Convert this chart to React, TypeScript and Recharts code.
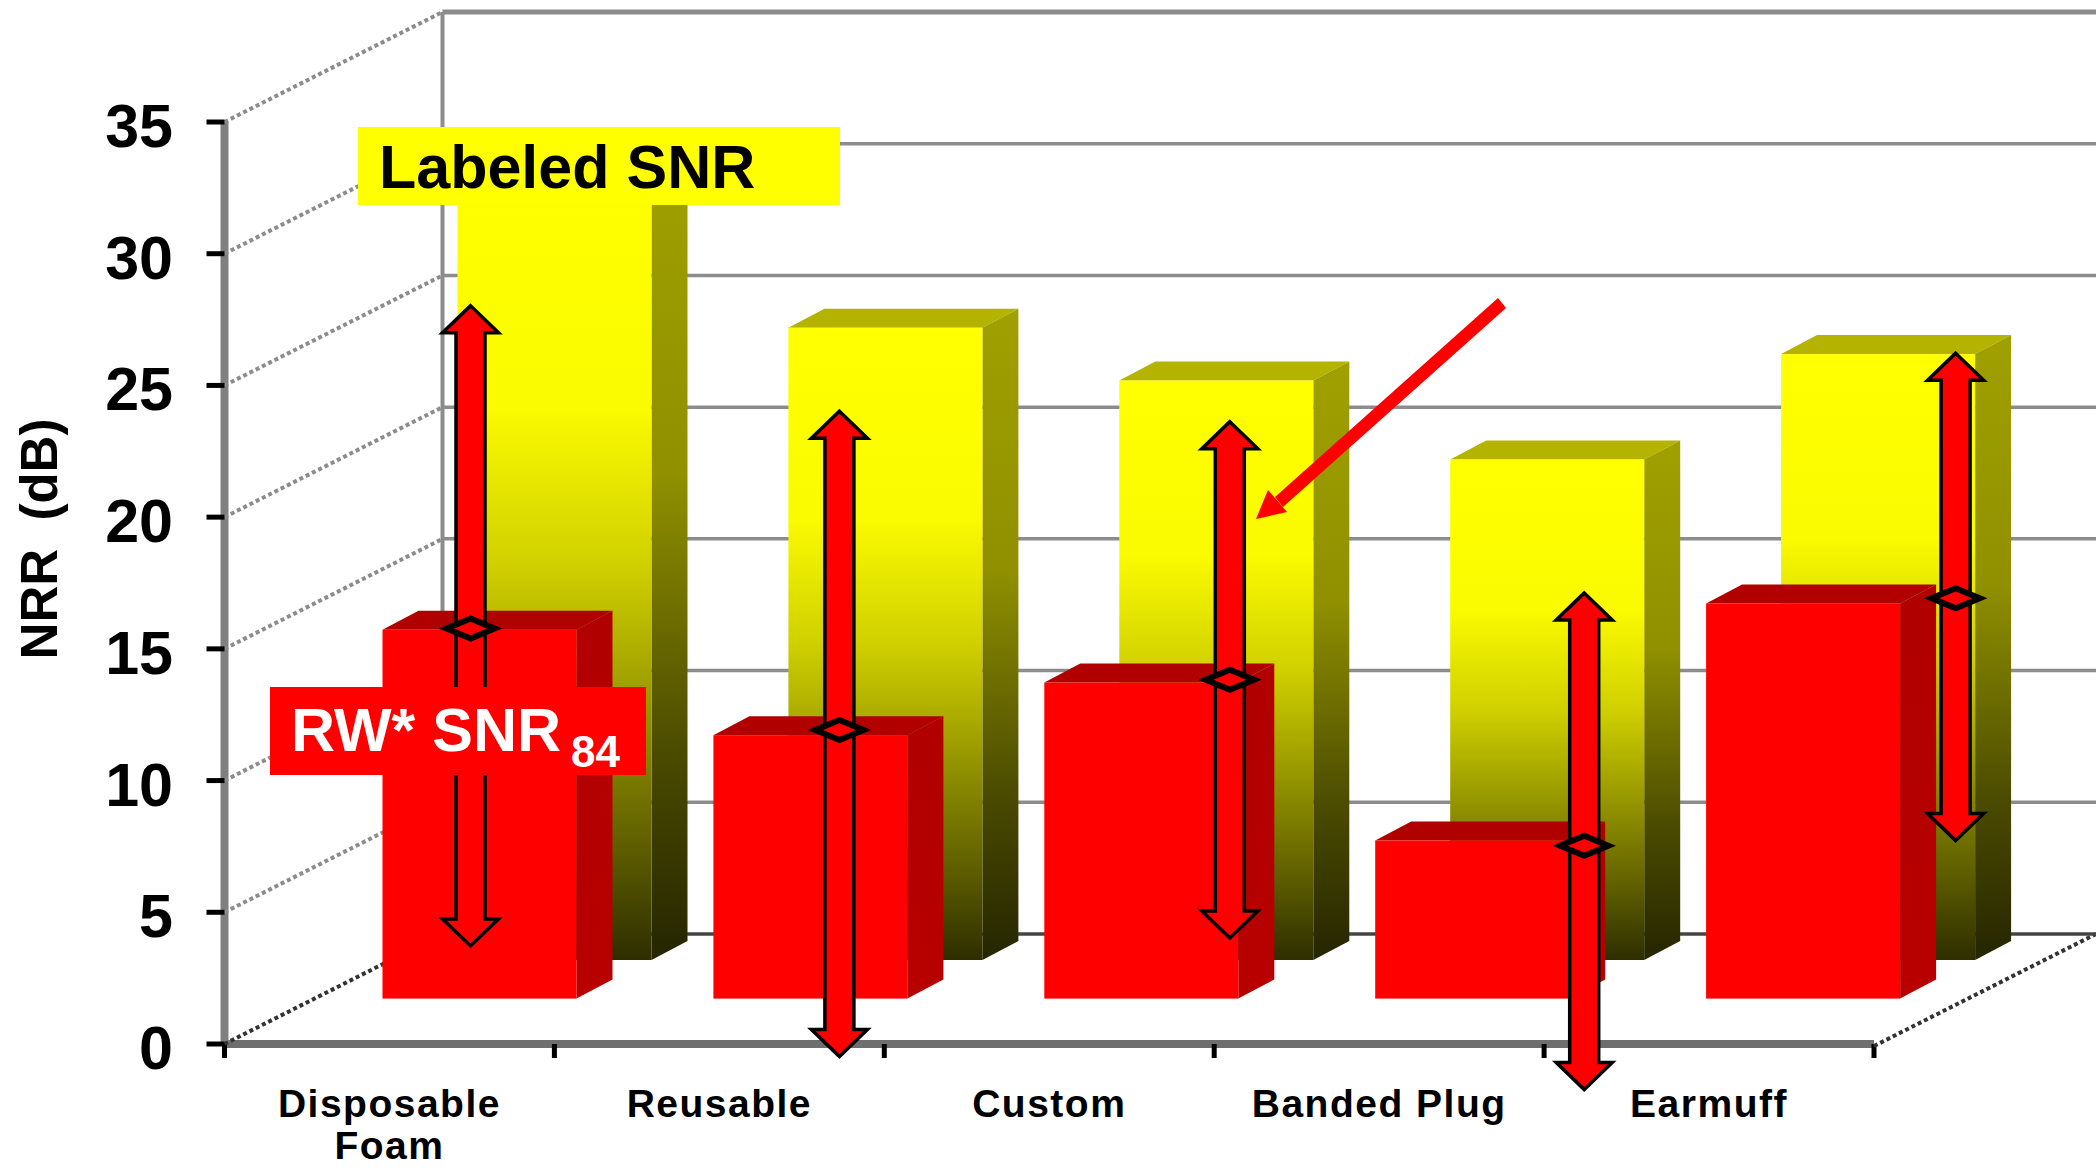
import { Bar, BarChart, XAxis, YAxis } from 'recharts'

const W = 2096
const H = 1168

const categories = ['Disposable\nFoam', 'Reusable', 'Custom', 'Banded Plug', 'Earmuff']
const labeledSnr = [30, 24, 22, 19, 23]
const realWorldSnr = [14, 10, 12, 6, 15]
const rangeHigh = [26.3, 22.3, 21.9, 15.4, 24.5]
const rangeLow = [2, -2.2, 2.3, -3.45, 6]
const rangeMid = [14.05, 10.2, 12.1, 5.8, 15.2]
const yTicks = [0, 5, 10, 15, 20, 25, 30, 35]

const table = categories.map((name, i) => ({
  name,
  labeled: labeledSnr[i],
  real: realWorldSnr[i],
  range: [rangeLow[i], rangeHigh[i]],
  mid: rangeMid[i],
}))

// layout of the fake 3d box
const PLOT_LEFT = 224.5
const PLOT_RIGHT = 1874
const Y_TOP = 122
const Y_ZERO = 1044
const UNIT = (Y_ZERO - Y_TOP) / 35
const BAND = (PLOT_RIGHT - PLOT_LEFT) / categories.length
const WALL_DX = 218
const WALL_DY = 110
const BAR_W = 194
const FONT = '"Liberation Sans", Arial, sans-serif'

const arrowShift = [81, 120, 180.5, 205, 246.5]

function YTick({ y, payload }: any) {
  const value = payload.value
  const px = PLOT_LEFT
  const line = value === 0 ? '#333333' : '#8c8c8c'
  return (
    <g>
      <line
        x1={px}
        y1={y}
        x2={px + WALL_DX}
        y2={y - WALL_DY}
        stroke={line}
        strokeWidth={4}
        strokeDasharray="4 3"
      />
      <line
        x1={px + WALL_DX}
        y1={y - WALL_DY}
        x2={W}
        y2={y - WALL_DY}
        stroke={value === 0 ? '#444444' : '#8c8c8c'}
        strokeWidth={value === 35 ? 5 : 3.5}
      />
      {value === 35 && (
        <line
          x1={px + WALL_DX}
          y1={y - WALL_DY}
          x2={px + WALL_DX}
          y2={Y_ZERO - WALL_DY}
          stroke="#8c8c8c"
          strokeWidth={4}
        />
      )}
      <line x1={px - 18} y1={y} x2={px} y2={y} stroke="#000" strokeWidth={5} />
      <text
        x={173}
        y={y + 25}
        textAnchor="end"
        fontFamily={FONT}
        fontWeight="bold"
        fontSize={61}
        fill="#000"
      >
        {value}
      </text>
    </g>
  )
}

function XTick({ x, payload, index }: any) {
  const lines = String(payload.value).split('\n')
  const left = x - BAND / 2
  const last = index === categories.length - 1
  return (
    <g>
      <line x1={left} y1={Y_ZERO} x2={left} y2={Y_ZERO + 14} stroke="#000" strokeWidth={5} />
      {last && (
        <>
          <line x1={left + BAND} y1={Y_ZERO} x2={left + BAND} y2={Y_ZERO + 14} stroke="#000" strokeWidth={5} />
          <line
            x1={left + BAND}
            y1={Y_ZERO + 2}
            x2={left + BAND + WALL_DX + 4}
            y2={Y_ZERO - WALL_DY}
            stroke="#333333"
            strokeWidth={4}
            strokeDasharray="4 3"
          />
        </>
      )}
      <text
        x={x}
        textAnchor="middle"
        fontFamily={FONT}
        fontWeight="bold"
        fontSize={39}
        letterSpacing={1.5}
        fill="#000"
      >
        {lines.map((t: string, i: number) => (
          <tspan key={t} x={x} y={Y_ZERO + 73 + i * 42}>
            {t}
          </tspan>
        ))}
      </text>
    </g>
  )
}

function box(props: any, dx: number, dy: number, front: string, side: string, top: string) {
  const { x, y, width, height, index } = props
  const l = x + dx + index
  const t = y + dy
  const r = l + width
  const b = t + height
  const dw = 36
  const dh = 19
  return (
    <g>
      <polygon points={`${l},${t} ${l + dw},${t - dh} ${r + dw},${t - dh} ${r},${t}`} fill={top} />
      <polygon points={`${r},${t} ${r + dw},${t - dh} ${r + dw},${b - dh} ${r},${b}`} fill={`url(#${side})`} />
      <rect x={l} y={t} width={width} height={height} fill={`url(#${front})`} />
    </g>
  )
}

const YellowBox = (props: any) => box(props, 165, -84, 'yellowFront', 'yellowSide', '#b4b400')
const RedBox = (props: any) => box(props, 90, -45.4, 'redFront', 'redSide', '#b00000')

function RangeArrow(props: any) {
  const { x, y, width, height, index, payload } = props
  const cx = x + width / 2 + arrowShift[index]
  const top = y - 45.4
  const bottom = top + height
  const [low, high] = payload.range
  const midY = top + ((high - payload.mid) / (high - low)) * height
  const s = 14.5
  const hw = 28
  const hh = 27
  const path = [
    `M${cx},${top}`,
    `L${cx + hw},${top + hh}`,
    `L${cx + s},${top + hh}`,
    `L${cx + s},${bottom - hh}`,
    `L${cx + hw},${bottom - hh}`,
    `L${cx},${bottom}`,
    `L${cx - hw},${bottom - hh}`,
    `L${cx - s},${bottom - hh}`,
    `L${cx - s},${top + hh}`,
    `L${cx - hw},${top + hh}`,
    'Z',
  ].join(' ')
  return (
    <g>
      <path d={path} fill="#ff0000" stroke="#000" strokeWidth={3.5} />
      <polygon
        points={`${cx - 24},${midY} ${cx},${midY - 10} ${cx + 24},${midY} ${cx},${midY + 10}`}
        fill="#ff0000"
        stroke="#000"
        strokeWidth={6}
      />
    </g>
  )
}

function Overlay() {
  return (
    <svg width={W} height={H} style={{ position: 'absolute', left: 0, top: 0 }}>
      <polygon points="1498,298 1506,308 1283,507 1275,497" fill="#ff0000" />
      <polygon points="1256,519 1268,490 1287,512" fill="#ff0000" />
      <rect x={358} y={127} width={482} height={78} fill="#ffff00" />
      <text x={379} y={188} fontFamily={FONT} fontWeight="bold" fontSize={61} fill="#000">
        Labeled SNR
      </text>
      <rect x={270} y={687} width={376} height={88} fill="#ff0000" />
      <text x={291} y={751} fontFamily={FONT} fontWeight="bold" fontSize={61} fill="#fff">
        RW* SNR
      </text>
      <text x={571} y={767} fontFamily={FONT} fontWeight="bold" fontSize={44} fill="#fff">
        84
      </text>
      <text
        transform="translate(57 539) rotate(-90)"
        textAnchor="middle"
        fontFamily={FONT}
        fontWeight="bold"
        fontSize={51}
        fill="#000"
        xmlSpace="preserve"
      >
        NRR  (dB)
      </text>
    </svg>
  )
}

export default function App() {
  return (
    <div style={{ position: 'absolute', left: 0, top: 0, width: W, height: H, overflow: 'hidden', background: '#fff' }}>
      {/* walls and axes go underneath, bars on a second chart with the same scale */}
      <div style={{ position: 'absolute', left: 0, top: 0 }}>
        <BarChart
          width={W}
          height={H}
          data={table}
          margin={{ top: Y_TOP, right: W - PLOT_RIGHT, bottom: 0, left: 0 }}
        >
          <XAxis
            dataKey="name"
            height={H - Y_ZERO}
            axisLine={{ stroke: '#6e6e6e', strokeWidth: 8 }}
            tickLine={false}
            tick={XTick}
            interval={0}
          />
          <YAxis
            domain={[0, 35]}
            ticks={yTicks}
            width={PLOT_LEFT}
            axisLine={{ stroke: '#808080', strokeWidth: 8 }}
            tickLine={false}
            tick={YTick}
            interval={0}
          />
          {/* invisible, only so the y axis has a series to build its ticks from */}
          <Bar dataKey="labeled" shape={() => null} isAnimationActive={false} />
        </BarChart>
      </div>
      <div style={{ position: 'absolute', left: 0, top: 0 }}>
        <BarChart
          width={W}
          height={H}
          data={table}
          barSize={BAR_W}
          barGap={-BAR_W}
          margin={{ top: Y_TOP, right: W - PLOT_RIGHT, bottom: H - Y_ZERO - 4 * UNIT, left: PLOT_LEFT }}
        >
          <defs>
            <linearGradient id="yellowFront" x1="0" y1="0" x2="0" y2="1">
              <stop offset="0" stopColor="#ffff00" />
              <stop offset="0.3" stopColor="#fbfb00" />
              <stop offset="0.5" stopColor="#d0d000" />
              <stop offset="0.7" stopColor="#909000" />
              <stop offset="0.85" stopColor="#606000" />
              <stop offset="1" stopColor="#2e2e00" />
            </linearGradient>
            <linearGradient id="yellowSide" x1="0" y1="0" x2="0" y2="1">
              <stop offset="0" stopColor="#a0a000" />
              <stop offset="0.4" stopColor="#909000" />
              <stop offset="0.75" stopColor="#4a4a00" />
              <stop offset="1" stopColor="#252500" />
            </linearGradient>
            <linearGradient id="redFront" x1="0" y1="0" x2="0" y2="1">
              <stop offset="0" stopColor="#ff0000" />
              <stop offset="1" stopColor="#ff0000" />
            </linearGradient>
            <linearGradient id="redSide" x1="0" y1="0" x2="0" y2="1">
              <stop offset="0" stopColor="#b00000" />
              <stop offset="1" stopColor="#b80000" />
            </linearGradient>
          </defs>
          <XAxis dataKey="name" hide />
          <YAxis domain={[-4, 35]} hide />
          <Bar dataKey="labeled" shape={YellowBox} isAnimationActive={false} />
          <Bar dataKey="real" shape={RedBox} isAnimationActive={false} />
          <Bar dataKey="range" shape={RangeArrow} isAnimationActive={false} />
        </BarChart>
      </div>
      <Overlay />
    </div>
  )
}
